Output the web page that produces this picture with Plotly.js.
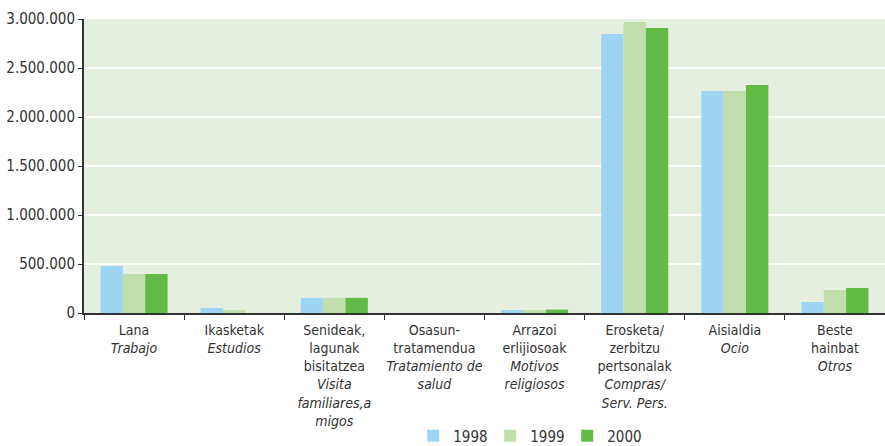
<!DOCTYPE html>
<html><head><meta charset="utf-8">
<script src="https://cdn.plot.ly/plotly-3.0.1.min.js"></script>
<style>body{margin:0;background:#fff}#c{width:885px;height:446px}</style>
</head><body><div id="c"></div>
<script>
const categories = [
  "Lana<br><i>Trabajo</i>",
  "Ikasketak<br><i>Estudios</i>",
  "Senideak,<br>lagunak<br>bisitatzea<br><i>Visita</i><br><i>familiares,a</i><br><i>migos</i>",
  "Osasun-<br>tratamendua<br><i>Tratamiento de</i><br><i>salud</i>",
  "Arrazoi<br>erlijiosoak<br><i>Motivos</i><br><i>religiosos</i>",
  "Erosketa/<br>zerbitzu<br>pertsonalak<br><i>Compras/</i><br><i>Serv. Pers.</i>",
  "Aisialdia<br><i>Ocio</i>",
  "Beste<br>hainbat<br><i>Otros</i>"
];
const v1998 = [480000, 50000, 155000, 0, 30000, 2847000, 2265000, 112000];
const v1999 = [398000, 30000, 155000, 0, 30000, 2969000, 2265000, 235000];
const v2000 = [398000, 0, 155000, 0, 35000, 2908000, 2327000, 255000];
const years = ["1998", "1999", "2000"];
const colors = ["#9dd5f2", "#c0dfad", "#61bb46"];
const series = [v1998, v1999, v2000];

const font = "'DejaVu Sans Condensed', 'Liberation Sans Narrow', sans-serif";
const data = series.map((v, i) => ({
  type: "bar", x: categories, y: v, name: years[i],
  marker: {color: colors[i], line: {width: 0}}
}));
const layout = {
  width: 885, height: 446,
  margin: {l: 84, r: 0, t: 19, b: 133},
  paper_bgcolor: "#ffffff", plot_bgcolor: "#e4efdf",
  separators: ",.",
  font: {family: font, size: 14, color: "#333333"},
  barmode: "group", bargap: 0.33, bargroupgap: 0,
  xaxis: {
    showline: true, linecolor: "#333333", linewidth: 2,
    ticks: "outside", tickson: "boundaries", ticklen: 5, tickcolor: "#333333",
    showgrid: false, tickangle: 0, automargin: false, ticklabelstandoff: 3,
    tickfont: {family: font, size: 14, color: "#333333"}
  },
  yaxis: {
    range: [0, 3000000], tickvals: [0,500000,1000000,1500000,2000000,2500000,3000000],
    tickformat: ",d", showline: true, linecolor: "#333333", linewidth: 2,
    ticks: "outside", ticklen: 4, tickcolor: "#333333",
    gridcolor: "#ffffff", gridwidth: 1.5, zeroline: false, automargin: false,
    tickfont: {family: font, size: 15, color: "#333333"}
  },
  showlegend: true,
  legend: {orientation: "h", xref: "paper", x: 0.411, xanchor: "left",
    yref: "container", y: 0.0224, yanchor: "middle",
    font: {family: font, size: 15, color: "#333333"}, entrywidth: 32, itemwidth: 30,
    bgcolor: "rgba(0,0,0,0)"}
};
Plotly.newPlot("c", data, layout, {displayModeBar: false, staticPlot: true});
</script></body></html>
